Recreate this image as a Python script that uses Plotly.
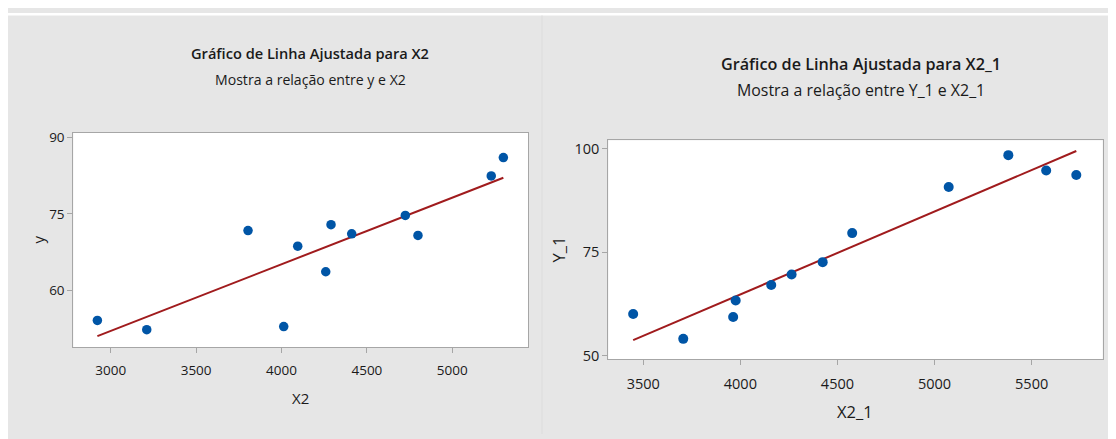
import numpy as np
import plotly.graph_objects as go

# page body has an 8px margin: figure is drawn at (8, 8) in the window
OFF = 8
W, H = 1116 - OFF, 439 - OFF

# Left chart data: y vs X2
x2 = [2922, 3211, 3804, 4013, 4095, 4259, 4290, 4411, 4725, 4799, 5228, 5299]
y = [54.2, 52.4, 71.75, 53.0, 68.7, 63.7, 72.9, 71.1, 74.7, 70.8, 82.4, 86.0]

# Right chart data: Y_1 vs X2_1
x2_1 = [3448, 3706, 3963, 3976, 4159, 4264, 4424, 4576, 5073, 5380, 5575, 5730]
y_1 = [60.1, 54.1, 59.35, 63.35, 67.1, 69.6, 72.6, 79.6, 90.7, 98.4, 94.7, 93.6]

left_xticks = [3000, 3500, 4000, 4500, 5000]
left_yticks = [60, 75, 90]
right_xticks = [3500, 4000, 4500, 5000, 5500]
right_yticks = [50, 75, 100]

titles = ["Gráfico de Linha Ajustada para X2", "Gráfico de Linha Ajustada para X2_1"]
subtitles = ["Mostra a relação entre y e X2", "Mostra a relação entre Y_1 e X2_1"]

BLUE = "#0055a6"
RED = "#a01b1d"
FONT = "Open Sans"
TXT = "#1a1a1a"


def fit_line(xs, ys):
    b1, b0 = np.polyfit(xs, ys, 1)
    xx = np.array([min(xs), max(xs)])
    return xx, b0 + b1 * xx


def px(v):
    return (v - OFF) / W


def py(v):
    return 1 - (v - OFF) / H


fig = go.Figure()

lx, ly = fit_line(x2, y)
fig.add_trace(go.Scatter(x=lx, y=ly, mode="lines", line=dict(color=RED, width=2),
                         xaxis="x", yaxis="y", showlegend=False))
fig.add_trace(go.Scatter(x=x2, y=y, mode="markers",
                         marker=dict(color=BLUE, size=9.5, line=dict(width=0)),
                         xaxis="x", yaxis="y", showlegend=False))

rx, ry = fit_line(x2_1, y_1)
fig.add_trace(go.Scatter(x=rx, y=ry, mode="lines", line=dict(color=RED, width=2),
                         xaxis="x2", yaxis="y2", showlegend=False))
fig.add_trace(go.Scatter(x=x2_1, y=y_1, mode="markers",
                         marker=dict(color=BLUE, size=10, line=dict(width=0)),
                         xaxis="x2", yaxis="y2", showlegend=False))

axis_common = dict(showgrid=False, zeroline=False, showline=True, linecolor="#a6a6a6",
                   linewidth=1, mirror=True, ticks="outside", ticklen=5, tickwidth=1,
                   tickcolor="#a6a6a6")

fig.update_layout(
    width=W, height=H,
    margin=dict(l=0, r=0, t=0, b=0),
    paper_bgcolor="#e6e6e6",
    plot_bgcolor="white",
    showlegend=False,
    xaxis=dict(domain=[px(73.3), px(528.3)], range=[2781, 5445], tickvals=left_xticks,
               tickfont=dict(family=FONT, size=13.5, color=TXT), anchor="y",
               ticklabelstandoff=6, **axis_common),
    yaxis=dict(domain=[py(350), py(130.7)], range=[49.0, 90.82], tickvals=left_yticks,
               tickfont=dict(family=FONT, size=13.5, color=TXT), anchor="x", **axis_common),
    xaxis2=dict(domain=[px(608.3), px(1102.7)], range=[3320, 5866], tickvals=right_xticks,
                tickfont=dict(family=FONT, size=14.5, color=TXT), anchor="y2",
                ticklabelstandoff=6, **axis_common),
    yaxis2=dict(domain=[py(362.7), py(138.3)], range=[49.13, 101.98], tickvals=right_yticks,
                tickfont=dict(family=FONT, size=14.5, color=TXT), anchor="x2", **axis_common),
)

# white strip above the grey panels
fig.add_shape(type="rect", xref="paper", yref="paper", x0=0, x1=1, y0=py(10.5), y1=1,
              fillcolor="white", line=dict(width=0), layer="below")
fig.add_shape(type="line", xref="paper", yref="paper", x0=px(542), x1=px(542), y0=0, y1=py(10.5),
              line=dict(color="#dcdcdc", width=1), layer="below")

ann = []
ann.append(dict(text=titles[0], x=px(309.5), y=py(49),
                font=dict(family=FONT, size=14.6, color=TXT, weight=600)))
ann.append(dict(text=subtitles[0], x=px(310.5), y=py(76.5),
                font=dict(family=FONT, size=14.1, color=TXT)))
ann.append(dict(text=titles[1], x=px(861), y=py(60.5),
                font=dict(family=FONT, size=16.2, color=TXT, weight=600)))
ann.append(dict(text=subtitles[1], x=px(860.5), y=py(87),
                font=dict(family=FONT, size=15.9, color=TXT)))
ann.append(dict(text="X2", x=px(300), y=py(402), font=dict(family=FONT, size=15, color=TXT)))
ann.append(dict(text="X2_1", x=px(855), y=py(415.5), font=dict(family=FONT, size=16.5, color=TXT)))
ann.append(dict(text="y", x=px(38), y=py(240), textangle=-90,
                font=dict(family=FONT, size=15, color=TXT)))
ann.append(dict(text="Y_1", x=px(558), y=py(250), textangle=-90,
                font=dict(family=FONT, size=16.5, color=TXT)))
for a in ann:
    a.update(xref="paper", yref="paper", showarrow=False, xanchor="center", yanchor="middle")
fig.update_layout(annotations=ann)

fig.write_html("out.html")
